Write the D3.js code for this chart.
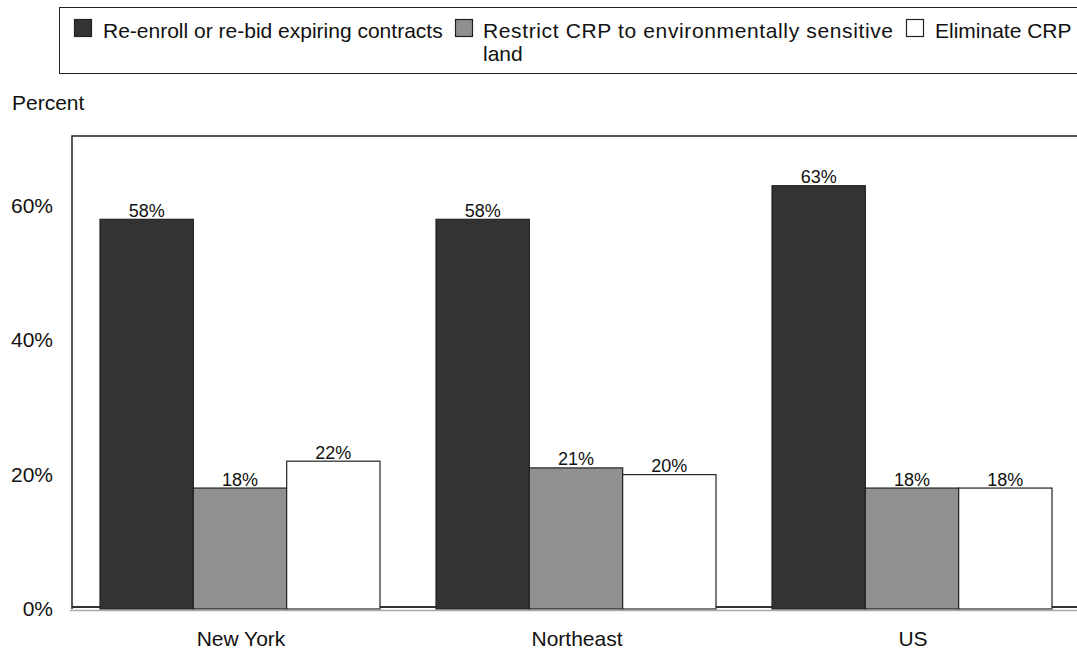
<!DOCTYPE html>
<html>
<head>
<meta charset="utf-8">
<script src="https://cdn.jsdelivr.net/npm/d3@7"></script>
<style>
  html, body { margin: 0; padding: 0; background: #fff; }
  svg { display: block; font-family: "Liberation Sans", Arial, sans-serif; }
</style>
</head>
<body>
<svg id="chart" width="1077" height="651"></svg>
<script>
// Survey responses by region
const regions = ["New York", "Northeast", "US"];
const seriesNames = [
  "Re-enroll or re-bid expiring contracts",
  "Restrict CRP to environmentally sensitive land",
  "Eliminate CRP"
];
const reenroll = [58, 58, 63];
const restrict = [18, 21, 18];
const eliminate = [22, 20, 18];
const yTicks = [0, 20, 40, 60];
const colors = ["#333333", "#909090", "#ffffff"];

const series = [reenroll, restrict, eliminate];

const svg = d3.select("#chart");
const plot = { left: 72, right: 1080, top: 136, bottom: 609 };

const x0 = d3.scaleBand().domain(regions).range([plot.left, plot.right]);
const x1 = d3.scaleBand().domain(d3.range(seriesNames.length))
  .range([28, x0.bandwidth() - 28]);
const y = d3.scaleLinear().domain([0, 70.4]).range([plot.bottom, plot.top]);

// Plot frame (left and top edges)
svg.append("path")
  .attr("d", `M${plot.left},${plot.bottom} V${plot.top} H${plot.right}`)
  .attr("fill", "none").attr("stroke", "#222").attr("stroke-width", 1.5);

// Floor line behind the bars
svg.append("line")
  .attr("x1", plot.left).attr("x2", plot.right)
  .attr("y1", plot.bottom - 2).attr("y2", plot.bottom - 2)
  .attr("stroke", "#333").attr("stroke-width", 2);

// Bars
const groups = svg.selectAll("g.region").data(regions).join("g")
  .attr("class", "region")
  .attr("transform", d => `translate(${x0(d)},0)`);

groups.each(function(region, ri) {
  const g = d3.select(this);
  series.forEach((vals, si) => {
    const v = vals[ri];
    g.append("rect")
      .attr("x", x1(si))
      .attr("y", y(v))
      .attr("width", x1.bandwidth())
      .attr("height", y(0) - y(v))
      .attr("fill", colors[si])
      .attr("stroke", "#222").attr("stroke-width", 1.2);
    g.append("text")
      .attr("x", x1(si) + x1.bandwidth() / 2)
      .attr("y", y(v) - 2.5)
      .attr("text-anchor", "middle")
      .attr("font-size", 18)
      .attr("fill", "#111")
      .text(v + "%");
  });
});

// Baseline axis line
svg.append("line")
  .attr("x1", plot.left - 2).attr("x2", plot.right)
  .attr("y1", plot.bottom + 1.5).attr("y2", plot.bottom + 1.5)
  .attr("stroke", "#aaa").attr("stroke-width", 1.5);

// Y tick labels
svg.selectAll("text.ytick").data(yTicks).join("text")
  .attr("class", "ytick")
  .attr("x", 53)
  .attr("y", d => y(d) + 7)
  .attr("text-anchor", "end")
  .attr("font-size", 21)
  .attr("fill", "#111")
  .text(d => d + "%");

// X category labels
svg.selectAll("text.xlab").data(regions).join("text")
  .attr("class", "xlab")
  .attr("x", d => x0(d) + x0.bandwidth() / 2 + 1)
  .attr("y", 646)
  .attr("text-anchor", "middle")
  .attr("font-size", 21)
  .attr("fill", "#111")
  .text(d => d);

// Axis title
svg.append("text")
  .attr("x", 12).attr("y", 110)
  .attr("font-size", 21).attr("fill", "#111")
  .text("Percent");

// Legend
svg.append("rect")
  .attr("x", 59.5).attr("y", 7.5).attr("width", 1030).attr("height", 66)
  .attr("fill", "#fff").attr("stroke", "#222").attr("stroke-width", 1);

const legendItems = [
  { sx: 74, tx: 103, lines: ["Re-enroll or re-bid expiring contracts"], fit: [null] },
  { sx: 455, tx: 483, lines: ["Restrict CRP to environmentally sensitive", "land"], fit: [410, null] },
  { sx: 906, tx: 935, lines: ["Eliminate CRP"], fit: [null] }
];
legendItems.forEach((it, i) => {
  svg.append("rect")
    .attr("x", it.sx + 0.5).attr("y", 19.5).attr("width", 17).attr("height", 17)
    .attr("fill", colors[i]).attr("stroke", "#222").attr("stroke-width", 1.2);
  it.lines.forEach((ln, k) => {
    const t = svg.append("text")
      .attr("x", it.tx).attr("y", 38 + k * 23)
      .attr("font-size", 21).attr("fill", "#111")
      .text(ln);
    if (it.fit[k]) t.attr("textLength", it.fit[k]).attr("lengthAdjust", "spacing");
  });
});
</script>
</body>
</html>
